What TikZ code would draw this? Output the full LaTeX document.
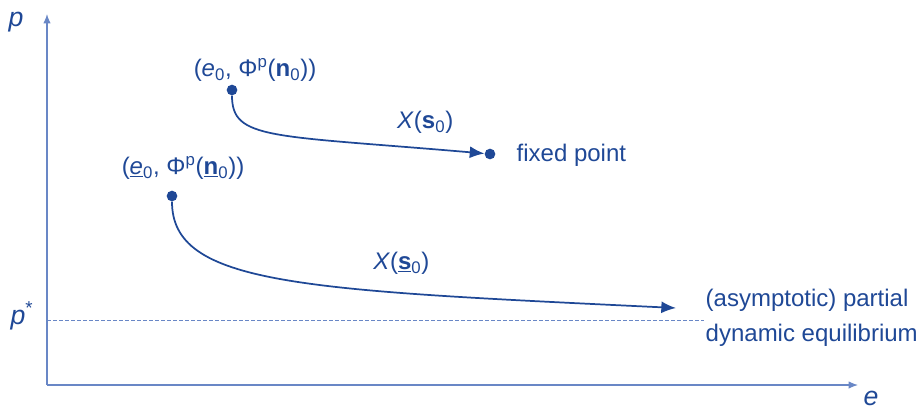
\documentclass[tikz,border=0pt]{standalone}
\usepackage{fontspec}
\setmainfont{Liberation Sans}
\usepackage{tikz}
\usetikzlibrary{arrows.meta,positioning,calc}
\usepackage{xcolor}
\definecolor{ink}{RGB}{31,72,150}
\definecolor{axisblue}{RGB}{105,135,198}

\newcommand{\ezero}{\textit{e}\textsubscript{0}}
\newcommand{\phin}{Φ\textsuperscript{p}(\textbf{n}\textsubscript{0})}

\begin{document}
\begin{tikzpicture}[x=0.75pt, y=-0.75pt, >=Latex, every node/.style={text=ink, font=\fontsize{18}{21}\selectfont}]
  \useasboundingbox (0,0) rectangle (921,412);
  % axes
  \coordinate (o) at (47,385);
  \coordinate (ytop) at (47,14);
  \coordinate (xend) at (858,385);
  \draw[axisblue, line width=0.9pt, -{Latex[length=7pt,width=5.5pt]}] (o) -- (ytop);
  \draw[axisblue, line width=0.9pt, -{Latex[length=7pt,width=5.5pt]}] (o) -- (xend);
  \node[font=\fontsize{20}{24}\selectfont] (plabel) at (16,22) {\textit{p}};
  \node[font=\fontsize{20}{24}\selectfont] (elabel) at (871,398) {\textit{e}};
  \node[font=\fontsize{20}{24}\selectfont] (pstar) at (22,316) {\textit{p}\textsuperscript{*}};
  % level p*
  \coordinate (pstarl) at (47,320);
  \coordinate (pstarr) at (704,320);
  \draw[axisblue, line width=0.6pt, dash pattern=on 3pt off 1.5pt] (pstarl) -- (pstarr);
  % first orbit: to the fixed point
  \node[circle, fill=ink, inner sep=0pt, minimum size=8pt] (s1) at (232,90) {};
  \node (s1lab) at (255,70) {(\ezero, \phin)};
  \node[circle, fill=ink, inner sep=0pt, minimum size=8pt] (fp) at (490,154) {};
  \node[anchor=west] (fplab) at (512,155) {fixed point};
  \draw[ink, line width=1.3pt, -{Latex[length=11pt,width=9pt]}] (s1) .. controls (232,140) and (270,135) .. node[pos=0.9, above=7pt] (x1) {\textit{X}(\textbf{s}\textsubscript{0})} (fp);
  % second orbit: asymptotic equilibrium
  \node[circle, fill=ink, inner sep=0pt, minimum size=8pt] (s2) at (172,196) {};
  \node (s2lab) at (183,168) {(\underline{\textit{e}}\textsubscript{0}, Φ\textsuperscript{p}(\underline{\textbf{n}}\textsubscript{0}))};
  \coordinate (eq) at (676,308);
  \node[anchor=west, align=left, font=\fontsize{18}{26}\selectfont] (eqlab) at (701,318) {(asymptotic) partial\\dynamic equilibrium};
  \draw[ink, line width=1.3pt, -{Latex[length=11pt,width=9pt]}] (s2) .. controls (172,285) and (300,290) .. node[pos=0.7, above=10pt] (x2) {\textit{X}(\underline{\textbf{s}}\textsubscript{0})} (eq);
\end{tikzpicture}
\end{document}
